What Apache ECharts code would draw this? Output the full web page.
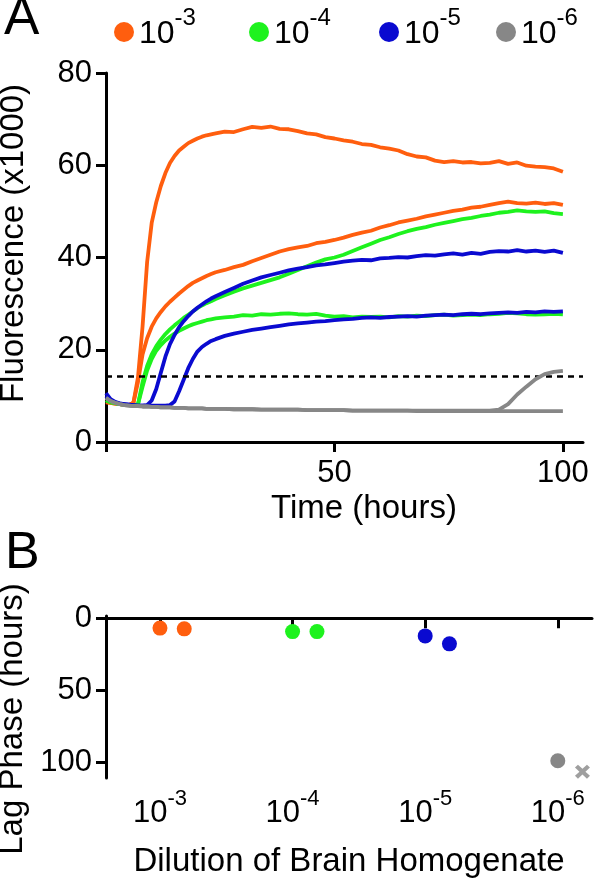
<!DOCTYPE html>
<html>
<head>
<meta charset="utf-8">
<script src="https://cdn.jsdelivr.net/npm/echarts@6/dist/echarts.min.js"></script>
<style>html,body{margin:0;padding:0;background:#fff;}#c{width:600px;height:880px;}</style>
</head>
<body>
<div id="c"></div>
<script>
// ---------- data ----------
var times = [0,1,2,3,4,5,6,7,8,9,10,11,12,13,14,15,16,17,18,19,20,21,22,23,24,
  26,28,30,32,34,36,38,40,42,44,46,48,50,52,54,56,58,60,62,64,66,68,70,72,74,76,78,80,82,84,86,88,90,92,94,96,98,100];

var orangeA = [8.6,8.5,8.3,8.2,8.1,8.0,8.5,14,25,39,47.5,52,55.5,58.3,60.5,62,63.2,64,64.8,65.3,65.8,66.2,66.5,66.7,66.9,
  67.3,67.2,67.8,68.3,68.1,68.4,67.9,67.8,67.4,66.9,66.7,66.1,65.8,65.4,65.1,64.6,64.4,63.9,63.6,63.2,62.4,61.9,61.7,61.0,60.7,60.9,60.6,60.7,60.4,60.5,60.9,60.3,60.6,59.9,59.7,59.6,59.3,58.6];
var orangeB = [8.7,8.5,8.3,8.2,8.1,8.0,8.5,13,19,22.5,25,26.8,28.2,29.4,30.4,31.3,32.2,33.0,33.8,34.5,35.0,35.5,36.0,36.4,36.8,
  37.3,37.9,38.4,39.2,39.9,40.6,41.3,41.8,42.2,42.5,43.1,43.4,43.8,44.3,44.9,45.4,45.8,46.5,47.0,47.6,48.0,48.4,48.9,49.3,49.7,50.1,50.4,50.8,51.0,51.4,51.8,52.1,51.8,51.7,51.9,51.6,51.8,51.4];
var greenA = [9.0,8.6,8.4,8.2,8.1,8.0,7.9,8.1,13,16.5,19,20.8,22.2,23.4,24.4,25.3,26.1,26.9,27.6,28.3,29.0,29.6,30.1,30.5,31.0,
  31.8,32.6,33.3,33.9,34.5,35.1,35.7,36.5,37.3,38.1,38.9,39.6,40.0,40.6,41.4,42.2,43.0,43.8,44.4,45.1,45.7,46.2,46.6,47.1,47.5,47.9,48.3,48.6,49.0,49.3,49.7,49.9,50.2,50.0,49.9,50.0,49.6,49.4];
var greenB = [9.1,8.7,8.4,8.2,8.1,8.0,7.9,8.2,12,15.5,18,19.8,21,22,22.8,23.5,24.1,24.6,25.1,25.5,25.8,26.1,26.4,26.6,26.8,
  27.0,27.2,27.5,27.4,27.7,27.6,27.8,27.9,27.7,27.6,27.8,27.4,27.2,27.3,27.0,27.2,27.1,27.2,27.0,27.3,27.2,27.4,27.3,27.5,27.6,27.4,27.5,27.6,27.5,27.7,27.8,28.0,27.9,27.7,27.6,27.7,27.8,27.7];
var blueA = [10.6,9.3,8.7,8.4,8.2,8.1,8.0,7.9,7.9,8.0,9.0,11.5,15,18.5,21.2,23.2,24.9,26.2,27.3,28.3,29.1,29.8,30.5,31.1,31.6,
  32.5,33.4,34.3,35.0,35.7,36.2,36.7,37.2,37.6,37.9,38.3,38.5,38.8,39.1,39.3,39.5,39.4,39.8,39.9,40.1,40.0,40.3,40.5,40.4,40.7,40.9,40.6,41.0,40.8,41.2,41.4,41.3,41.6,41.3,41.5,41.2,41.5,41.0];
var blueB = [10.0,9.0,8.6,8.3,8.2,8.1,8.0,7.9,7.9,7.9,7.9,7.9,7.9,7.9,8.0,8.8,11,13.5,16,18,19.6,20.6,21.3,21.9,22.3,
  23.0,23.5,23.9,24.3,24.6,24.9,25.2,25.5,25.7,25.9,26.1,26.2,26.4,26.6,26.7,26.9,27.0,26.9,27.1,27.2,27.3,27.2,27.4,27.5,27.6,27.5,27.7,27.8,27.7,27.9,28.0,28.1,28.0,28.2,28.1,28.3,28.2,28.3];
var grayA = [9.6,8.9,8.5,8.2,8.0,7.9,7.8,7.8,7.7,7.7,7.6,7.6,7.5,7.5,7.5,7.4,7.4,7.4,7.3,7.3,7.3,7.3,7.2,7.2,7.2,
  7.2,7.1,7.1,7.1,7.0,7.0,7.0,7.0,7.0,6.9,6.9,6.9,6.9,6.9,6.8,6.8,6.8,6.8,6.8,6.8,6.8,6.7,6.7,6.7,6.7,6.7,6.7,6.7,6.7,6.7,6.7,6.7,6.7,6.7,6.7,6.7,6.7,6.7];
var grayB = [9.5,8.9,8.5,8.2,8.0,7.9,7.8,7.8,7.7,7.7,7.6,7.6,7.5,7.5,7.5,7.4,7.4,7.4,7.3,7.3,7.3,7.3,7.2,7.2,7.2,
  7.2,7.1,7.1,7.1,7.0,7.0,7.0,7.0,7.0,6.9,6.9,6.9,6.9,6.9,6.8,6.8,6.8,6.8,6.8,6.8,6.8,6.8,6.8,6.8,6.8,6.8,6.8,6.8,6.8,6.8,7.0,8.2,10.3,12.0,13.6,14.7,15.2,15.4];

var threshold = 14.2;

var dilutionNames = ['10^-3','10^-4','10^-5','10^-6'];
var dilutionExps = ['-3','-4','-5','-6'];
var dilutionPos = [1,2,3,4];
var colors = ['#FF5E0E','#1EF21E','#0A0AD0','#878787'];

// lag phase (panel B)
var lagOrangeX = [1, 1.183], lagOrangeY = [6.9, 7.4];
var lagGreenX = [2, 2.184],  lagGreenY = [9.3, 9.3];
var lagBlueX = [3, 3.183],   lagBlueY = [12.3, 17.8];
var lagGrayX = [4],          lagGrayY = [98.8];
var noLagX = [4.186],        noLagY = [106.4];

var timeTicks = [0,50,100], timeLabels = [50,100];
var fluorTicks = [0,20,40,60,80];
var lagTicks = [0,50,100];

// ---------- chart ----------
var FONT = 'Liberation Sans, Arial, Helvetica, sans-serif';
function pairs(xs, ys){ return xs.map(function(x,i){ return [x, ys[i]]; }); }
function curve(name, vals, color, z){
  return {type:'line', name:name, xAxisIndex:0, yAxisIndex:0, data:pairs(times, vals),
    showSymbol:false, symbol:'none', color:color, itemStyle:{color:color},
    lineStyle:{color:color, width:3.8}, z:z, animation:false};
}
function dots(name, xs, ys, color){
  return {type:'scatter', name:name, xAxisIndex:1, yAxisIndex:1, data:pairs(xs, ys),
    symbol:'circle', symbolSize:15, color:color, itemStyle:{color:color, opacity:1}, animation:false};
}
var axisLineStyle = {show:true, lineStyle:{color:'#000', width:3}};
var tickStyle = {lineStyle:{color:'#000', width:3}, length:10, inside:false};

var series = [
  curve(dilutionNames[0], orangeA, colors[0], 2),
  curve(dilutionNames[0], orangeB, colors[0], 2),
  curve(dilutionNames[1], greenA, colors[1], 3),
  curve(dilutionNames[1], greenB, colors[1], 3),
  curve(dilutionNames[2], blueA, colors[2], 4),
  curve(dilutionNames[2], blueB, colors[2], 4),
  curve(dilutionNames[3], grayA, colors[3], 5),
  curve(dilutionNames[3], grayB, colors[3], 5),
  dots(dilutionNames[0], lagOrangeX, lagOrangeY, colors[0]),
  dots(dilutionNames[1], lagGreenX, lagGreenY, colors[1]),
  dots(dilutionNames[2], lagBlueX, lagBlueY, colors[2]),
  dots(dilutionNames[3], lagGrayX, lagGrayY, colors[3]),
  {type:'scatter', name:dilutionNames[3], xAxisIndex:1, yAxisIndex:1, data:pairs(noLagX, noLagY),
    symbol:'path://M2,0 L5,3 L8,0 L10,2 L7,5 L10,8 L8,10 L5,7 L2,10 L0,8 L3,5 L0,2 Z',
    symbolSize:[15,14], itemStyle:{color:colors[3]}, animation:false}
];
series[0].markLine = {silent:true, symbol:'none', animation:false, label:{show:false},
  lineStyle:{color:'#000', width:2.5, type:[6,5]}, data:[{yAxis:threshold}]};

var legendLeft = [114, 249, 379, 496];
var legends = dilutionNames.map(function(n, i){
  return {data:[{name:n, icon:'circle'}], left:legendLeft[i], top:6, padding:0,
    itemWidth:20, itemHeight:20, itemGap:0, selectedMode:true,
    formatter:function(){ return '{b|10}{s|' + dilutionExps[i] + '}'; },
    textStyle:{color:'#000', fontFamily:FONT,
      rich:{b:{fontSize:32, fontFamily:FONT, color:'#000', padding:[12,0,8,0]},
            s:{fontSize:24, fontFamily:FONT, color:'#000', verticalAlign:'top'}}}};
});

var option = {
  backgroundColor:'#fff',
  animation:false,
  textStyle:{fontFamily:FONT},
  legend: legends,
  grid:[
    {left:106, top:73, width:477, height:369, containLabel:false, outerBoundsMode:'none'},
    {left:106, top:616, width:486, height:162, containLabel:false, outerBoundsMode:'none'}
  ],
  xAxis:[
    {type:'value', gridIndex:0, min:0, max:104.4, interval:50,
      axisLine:axisLineStyle, splitLine:{show:false},
      axisTick:Object.assign({customValues:timeTicks}, tickStyle),
      axisLabel:{customValues:timeLabels, margin:15.5, fontSize:31, color:'#000', fontFamily:FONT},
      name:'Time (hours)', nameLocation:'middle', nameGap:50,
      nameTextStyle:{fontSize:33, color:'#000', fontFamily:FONT, padding:[0,0,0,39]}},
    {type:'value', gridIndex:1, min:0.593, max:4.258,
      axisLine:axisLineStyle, splitLine:{show:false},
      axisTick:Object.assign({customValues:dilutionPos}, tickStyle),
      axisLabel:{customValues:dilutionPos, margin:10, color:'#000',
        formatter:function(v){ var i = dilutionPos.indexOf(Math.round(v)); return '{b|10}{s|' + dilutionExps[i] + '}'; },
        rich:{b:{fontSize:31, fontFamily:FONT, color:'#000', padding:[10,0,0,0]},
              s:{fontSize:22, fontFamily:FONT, color:'#000', verticalAlign:'top'}}},
      name:'Dilution of Brain Homogenate', nameLocation:'middle', nameGap:67,
      nameTextStyle:{fontSize:33, color:'#000', fontFamily:FONT}}
  ],
  yAxis:[
    {type:'value', gridIndex:0, min:0, max:80, interval:20,
      axisLine:axisLineStyle, splitLine:{show:false},
      axisTick:Object.assign({customValues:fluorTicks}, tickStyle),
      axisLabel:{customValues:fluorTicks, margin:14, fontSize:31, color:'#000', fontFamily:FONT},
      name:'Fluorescence (x1000)', nameLocation:'middle', nameGap:76,
      nameTextStyle:{fontSize:33, color:'#000', fontFamily:FONT, padding:[0,0,0,28]}},
    {type:'value', gridIndex:1, min:-1.5, max:110.8, inverse:true,
      axisLine:axisLineStyle, splitLine:{show:false},
      axisTick:Object.assign({customValues:lagTicks}, tickStyle),
      axisLabel:{customValues:lagTicks, margin:14, fontSize:31, color:'#000', fontFamily:FONT},
      name:'Lag Phase (hours)', nameLocation:'middle', nameGap:72,
      nameTextStyle:{fontSize:33, color:'#000', fontFamily:FONT, padding:[0,44,0,0]}}
  ],
  graphic:[
    {type:'text', x:4, y:19, style:{text:'A', fontSize:53, fontFamily:FONT, fill:'#000', verticalAlign:'middle'}},
    {type:'text', x:5, y:554, style:{text:'B', fontSize:52, fontFamily:FONT, fill:'#000', verticalAlign:'middle'}}
  ],
  series: series
};

var chart = echarts.init(document.getElementById('c'), null, {renderer:'canvas'});
chart.setOption(option);
</script>
</body>
</html>
